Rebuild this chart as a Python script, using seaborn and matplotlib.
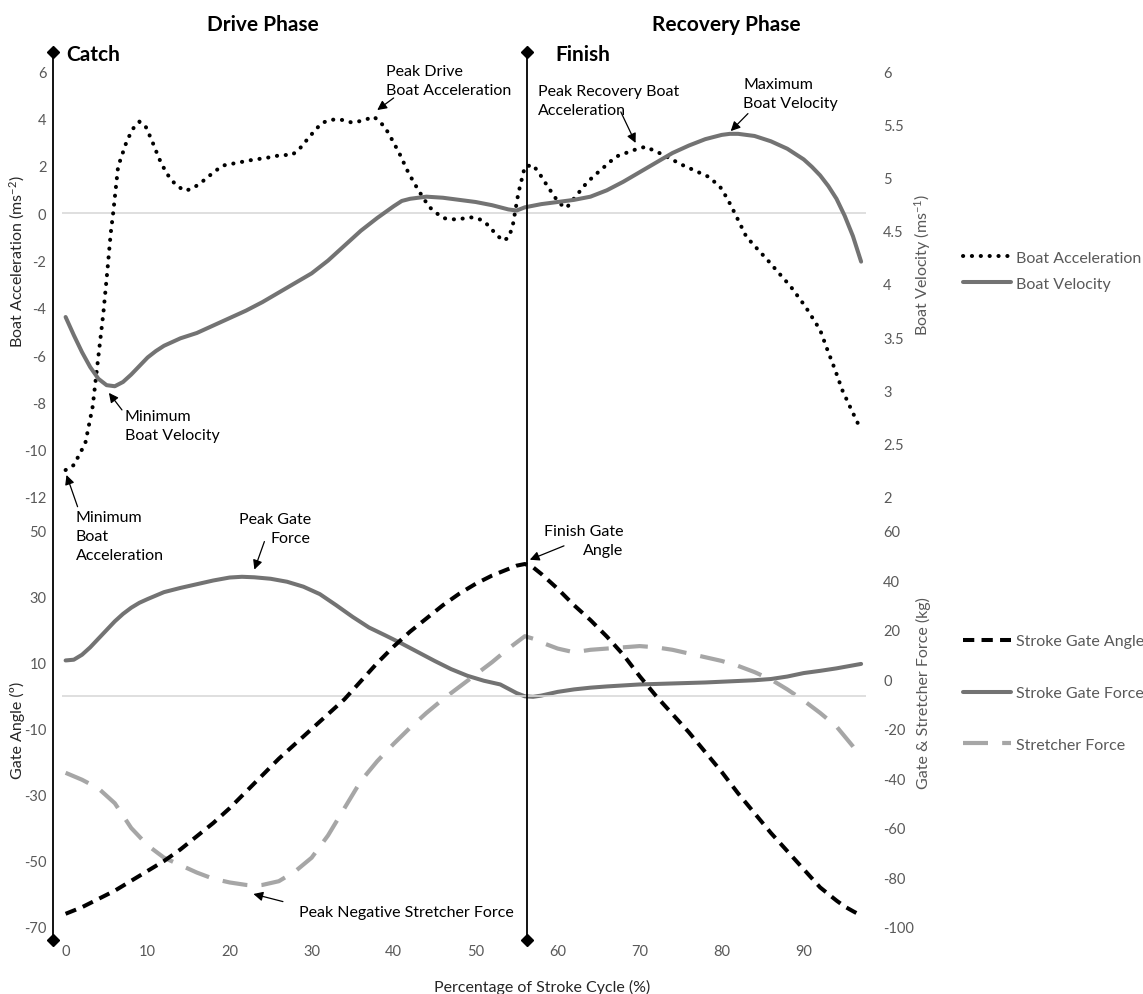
import matplotlib
matplotlib.use("Agg")
import matplotlib.pyplot as plt
import matplotlib.transforms as mtransforms
from matplotlib.ticker import FuncFormatter
import seaborn as sns

# ---------------- data ----------------
acc_x = [0, 1, 2.4, 3.3, 3.9, 4.6, 5.1, 5.5, 5.8, 6.4, 7.5, 8.3, 9.0, 9.7, 10.5, 11.4, 12.3, 13.4,
         14.5, 15.4, 16.4, 17.7, 19.1, 20.9, 22.7, 24.5, 26.3, 27.6, 28.5, 29.4, 30.3, 31.2, 32.1,
         33.0, 34.0, 34.9, 36.2, 37.6, 38.9, 39.8, 40.7, 41.8, 43.0, 44.3, 45.2, 46.1, 47.7, 49.3,
         50.2, 51.1, 52.4, 53.3, 54.0, 54.5, 55.2, 56.0, 57.0, 57.9, 58.8, 59.8, 60.8, 61.2, 62.5,
         63.6, 64.8, 67.1, 69.3, 70.7, 72.5, 75.2, 78.4, 79.8, 80.7, 81.6, 83.0, 84.3, 85.6, 87.0,
         88.4, 90.2, 92.0, 92.9, 93.8, 94.7, 95.8, 96.8]
acc_y = [-10.86, -10.65, -9.73, -8.18, -6.35, -4.24, -2.41, -0.86, 0.0, 1.96, 3.08, 3.6, 3.86, 3.7,
         3.08, 2.3, 1.68, 1.2, 0.94, 1.02, 1.25, 1.62, 2.0, 2.12, 2.24, 2.33, 2.45, 2.45, 2.7, 3.08,
         3.45, 3.79, 3.92, 3.96, 3.92, 3.82, 3.9, 4.07, 3.65, 3.1, 2.52, 1.7, 0.97, 0.27, 0.0, -0.22,
         -0.28, -0.18, -0.22, -0.37, -0.86, -1.17, -1.05, -0.58, 0.83, 1.96, 2.03, 1.6, 1.11, 0.6,
         0.22, 0.27, 0.83, 1.3, 1.68, 2.38, 2.66, 2.8, 2.52, 2.03, 1.53, 1.11, 0.6, -0.01, -1.0,
         -1.5, -1.99, -2.55, -3.1, -3.95, -4.94, -5.79, -6.6, -7.48, -8.3, -9.03]

vel_x = [0, 1, 2, 3, 4, 5, 6, 7, 8, 9, 10, 11, 12, 14, 16, 18, 20, 22, 24, 26, 28, 30, 32, 34, 36,
         38, 40, 41, 42, 44, 46, 48, 50, 52, 54, 55, 56, 58, 60, 62, 64, 66, 68, 70, 72, 74, 76, 78,
         80, 81, 82, 84, 86, 88, 90, 91, 92, 93, 94, 95, 96, 97]
vel_y = [3.69, 3.52, 3.36, 3.22, 3.11, 3.05, 3.04, 3.08, 3.15, 3.23, 3.31, 3.37, 3.42, 3.49, 3.54,
         3.61, 3.68, 3.75, 3.83, 3.92, 4.01, 4.10, 4.22, 4.36, 4.50, 4.62, 4.73, 4.78, 4.80, 4.82,
         4.81, 4.79, 4.77, 4.74, 4.70, 4.69, 4.72, 4.75, 4.77, 4.79, 4.82, 4.88, 4.96, 5.05, 5.14,
         5.23, 5.30, 5.36, 5.40, 5.41, 5.41, 5.39, 5.34, 5.27, 5.17, 5.10, 5.02, 4.92, 4.80, 4.64,
         4.45, 4.21]

ang_x = [0, 2, 4, 6, 8, 10, 12, 14, 16, 18, 20, 22, 24, 26, 28, 30, 32, 34, 36, 38, 40, 42, 44, 46,
         48, 50, 52, 54, 55, 56, 57, 58, 60, 62, 64, 66, 68, 70, 72, 74, 76, 78, 80, 82, 84, 86, 88,
         90, 92, 94, 95, 96, 96.6]
ang_y = [-66, -64, -61.5, -59, -56, -53, -50, -46.5, -42.5, -38.5, -34, -29, -24, -19, -14.5, -10,
         -5.5, -1, 4.5, 10, 15, 19.5, 23.5, 27.5, 31, 34, 36.5, 38.5, 39.5, 40, 39, 37, 32.5, 27.5,
         23, 18, 12.5, 6, 0, -5.5, -11, -17, -23, -29.5, -35.5, -41.5, -47, -52.5, -58, -62, -63.8,
         -65.2, -66]

gf_x = [0, 1, 2, 3, 4, 5, 6, 7, 8, 9, 10, 12, 14, 16, 18, 20, 21.5, 23, 25, 27, 29, 31, 33, 35, 37,
        39, 41, 43, 45, 47, 49, 51, 53, 55, 56, 57, 58, 60, 62, 64, 66, 68, 70, 72, 74, 76, 78, 80,
        82, 84, 86, 88, 90, 92, 94, 96, 97]
gf_y = [7.7, 8.0, 10, 13, 16.5, 20, 23.5, 26.5, 29, 31, 32.5, 35.3, 37, 38.5, 40, 41.2, 41.5, 41.3,
        40.7, 39.5, 37.5, 34.5, 30, 25.3, 21, 17.8, 14.5, 11, 7.5, 4.2, 1.5, -0.5, -2, -5.5, -6.8,
        -7, -6.5, -5, -4, -3.3, -2.8, -2.4, -2, -1.8, -1.6, -1.4, -1.2, -0.9, -0.6, -0.3, 0.2, 1.2,
        2.6, 3.5, 4.5, 5.7, 6.3]

sf_x = [0, 2, 4, 6, 8, 10, 12, 14, 16, 18, 20, 22, 23, 24, 26, 28, 30, 32, 34, 36, 38, 40, 42, 44,
        46, 48, 50, 52, 54, 56, 57, 58, 60, 62, 64, 66, 68, 70, 72, 74, 76, 78, 80, 82, 84, 86, 88,
        90, 92, 94, 96, 96.7]
sf_y = [-37.7, -40.5, -44, -50, -60, -67, -72, -75, -78, -80.5, -82, -83, -83.3, -83, -81.5, -77.5,
        -72, -63, -52, -41, -33, -26, -19.5, -13.5, -8, -3, 2, 7, 12.5, 17.5, 16.5, 15, 12.5, 11,
        12, 12.5, 13, 13.5, 13, 12, 10.5, 9, 7.5, 5.5, 3, 0, -4, -8.5, -13.5, -19, -27, -30]

acc_ticks = [-12, -10, -8, -6, -4, -2, 0, 2, 4, 6]
vel_ticks = [2, 2.5, 3, 3.5, 4, 4.5, 5, 5.5, 6]
ang_ticks = [-70, -50, -30, -10, 10, 30, 50]
force_ticks = [-100, -80, -60, -40, -20, 0, 20, 40, 60]
x_ticks = [0, 10, 20, 30, 40, 50, 60, 70, 80, 90]
catch_x = -1.5
finish_x = 56.2

# ---------------- style ----------------
sns.set_theme(style="white")
plt.rcParams["font.family"] = ["Lato", "DejaVu Sans"]
plt.rcParams["axes.unicode_minus"] = False
plt.rcParams["mathtext.fontset"] = "custom"
plt.rcParams["mathtext.rm"] = "Lato"
plt.rcParams["mathtext.it"] = "Lato:italic"
plt.rcParams["mathtext.bf"] = "Lato:bold"

TICK = "#595959"
BLACK = "#000000"
GREY = "#737373"
LIGHT = "#a6a6a6"
ZERO = "#d9d9d9"

W, H = 1143, 995
fig = plt.figure(figsize=(W / 100, H / 100), dpi=100)

L = 53.3 / W
AW = (868 - 53.3) / W
ax1 = fig.add_axes([L, 1 - 498 / H, AW, 426 / H])
ax1r = ax1.twinx()
ax2 = fig.add_axes([L, 1 - 928 / H, AW, 396 / H])
ax2r = ax2.twinx()

XLIM = (catch_x, 97.84)
for a in (ax1, ax1r, ax2, ax2r):
    a.set_xlim(*XLIM)
    a.set_facecolor("none")
    for s in a.spines.values():
        s.set_visible(False)
    a.tick_params(length=0, colors=TICK, labelsize=10.5)
    a.grid(False)

# zero lines
ax1.hlines(0, -0.5, 97.6, color=ZERO, lw=1.2, zorder=0)
ax2.hlines(0, -0.5, 97.6, color=ZERO, lw=1.2, zorder=0)

# ---------------- series ----------------
sns.lineplot(x=vel_x, y=vel_y, ax=ax1r, color=GREY, lw=2.9, label="Boat Velocity", legend=False)
sns.lineplot(x=acc_x, y=acc_y, ax=ax1, color=BLACK, lw=2.9, linestyle=(0, (0.05, 2.15)),
             dash_capstyle="round", label="Boat Acceleration", legend=False)
h_acc = ax1.get_lines()[-1]
h_vel = ax1r.get_lines()[-1]

sns.lineplot(x=gf_x, y=gf_y, ax=ax2r, color=GREY, lw=2.9, label="Stroke Gate Force", legend=False)
h_gf = ax2r.get_lines()[-1]
sns.lineplot(x=sf_x, y=sf_y, ax=ax2r, color=LIGHT, lw=3.0, linestyle=(0, (6.0, 3.4)),
             label="Stretcher Force", legend=False)
h_sf = ax2r.get_lines()[-1]
sns.lineplot(x=ang_x, y=ang_y, ax=ax2, color=BLACK, lw=2.9, linestyle=(0, (2.8, 1.8)),
             label="Stroke Gate Angle", legend=False)
h_ang = ax2.get_lines()[-1]
ax2.set_zorder(ax2r.get_zorder() + 1)

# ---------------- axes ----------------
ax1.set_ylim(-12, 6)
ax1.set_yticks(acc_ticks)
ax1r.set_ylim(2, 6)
ax1r.set_yticks(vel_ticks)
ax1r.yaxis.set_major_formatter(FuncFormatter(lambda v, p: f"{v:g}"))
ax2.set_ylim(-70, 50)
ax2.set_yticks(ang_ticks)
ax2r.set_ylim(-100, 60)
ax2r.set_yticks(force_ticks)

ax1.set_xticks([])
ax1r.set_xticks([])
ax2r.set_xticks([])
ax2.set_xticks(x_ticks)
ax2.tick_params(axis="x", pad=12)
ax1.tick_params(axis="y", pad=5)
ax2.tick_params(axis="y", pad=5)
ax1r.tick_params(axis="y", pad=11)
ax2r.tick_params(axis="y", pad=11)

ax2.set_xlabel("Percentage of Stroke Cycle (%)", fontsize=11.5, color="#262626")
ax2.xaxis.label.set(va="center")
ax2.xaxis.set_label_coords((542 - 53.3) / (868 - 53.3), (928 - 987) / 396)

ax1.set_ylabel(r"Boat Acceleration (ms$^{\mathregular{-2}}$)", fontsize=11.5, color="#262626")
ax1.yaxis.label.set(va="center", ha="center", rotation_mode="anchor")
ax1.yaxis.set_label_coords((17 - 53.3) / 814.7, (498 - 262) / 426)

ax1r.set_ylabel(r"Boat Velocity (ms$^{\mathregular{-1}}$)", fontsize=11.5, color=TICK)
ax1r.yaxis.label.set(va="center", ha="center", rotation_mode="anchor", rotation=90)
ax1r.yaxis.set_label_coords((923 - 53.3) / 814.7, (498 - 265) / 426)

ax2.set_ylabel("Gate Angle (º)", fontsize=11.5, color="#262626")
ax2.yaxis.label.set(va="center", ha="center", rotation_mode="anchor")
ax2.yaxis.set_label_coords((17 - 53.3) / 814.7, (928 - 730) / 396)

ax2r.set_ylabel("Gate & Stretcher Force (kg)", fontsize=11.5, color=TICK)
ax2r.yaxis.label.set(va="center", ha="center", rotation_mode="anchor", rotation=90)
ax2r.yaxis.set_label_coords((923 - 53.3) / 814.7, (928 - 693) / 396)

# ---------------- phase lines ----------------
trans = mtransforms.blended_transform_factory(ax2.transData, fig.transFigure)
for xv in (catch_x, finish_x):
    ax2.plot([xv, xv], [1 - 941 / H, 1 - 53 / H], transform=trans, color="black", lw=1.3,
             marker="D", ms=6.5, clip_on=False, zorder=10)

# ---------------- headings ----------------
fig.text(262.7 / W, 1 - 25 / H, "Drive Phase", ha="center", va="center", fontsize=15,
         fontweight="bold", color="black")
fig.text(726.7 / W, 1 - 25 / H, "Recovery Phase", ha="center", va="center", fontsize=15,
         fontweight="bold", color="black")
fig.text(66.6 / W, 1 - 55 / H, "Catch", ha="left", va="center", fontsize=15,
         fontweight="bold", color="black")
fig.text(555 / W, 1 - 55 / H, "Finish", ha="left", va="center", fontsize=15,
         fontweight="bold", color="black")

# ---------------- annotations ----------------
ANN = dict(fontsize=11.5, color="black", linespacing=1.45)
arrow = dict(arrowstyle="-|>", color="black", lw=0.9, mutation_scale=14, shrinkA=0, shrinkB=0)


def note(ax, text, pos, tail, tip, ha="left"):
    ax.text(pos[0], pos[1], text, ha=ha, va="center", multialignment=ha, clip_on=False, **ANN)
    ax.annotate("", xy=tip, xytext=tail, arrowprops=arrow, annotation_clip=False)


note(ax1, "Peak Drive\nBoat Acceleration", (39.1, 5.6), (40.0, 4.86), (38.0, 4.35))
note(ax1, "Peak Recovery Boat\nAcceleration", (57.6, 4.77), (67.7, 4.27), (69.5, 2.96))
note(ax1, "Maximum\nBoat Velocity", (82.6, 5.05), (83.2, 4.2), (81.1, 3.46))
note(ax1, "Minimum\nBoat Velocity", (7.23, -8.96), (6.87, -8.32), (5.28, -7.6))
note(ax1, "Minimum\nBoat\nAcceleration", (1.23, -13.65), (1.46, -12.41), (0.11, -11.07))
note(ax2, "Peak Gate\nForce", (29.9, 50.9), (24.24, 46.8), (23.02, 38.3), ha="right")
note(ax2, "Finish Gate\nAngle", (67.97, 47.06), (60.77, 45.5), (56.6, 41.3), ha="right")
note(ax2, "Peak Negative Stretcher Force", (28.45, -65.4), (26.5, -62.3), (22.9, -60.0))

# ---------------- legends ----------------
fig.legend(handles=[h_acc, h_vel], labels=["Boat Acceleration", "Boat Velocity"],
           loc="center left", bbox_to_anchor=(963 / W, 1 - 271.5 / H), frameon=False,
           handlelength=3.0, handletextpad=0.3, labelspacing=0.75, borderpad=0,
           borderaxespad=0, fontsize=11.5, labelcolor=TICK)
fig.legend(handles=[h_ang, h_gf, h_sf],
           labels=["Stroke Gate Angle", "Stroke Gate Force", "Stretcher Force"],
           loc="center left", bbox_to_anchor=(963 / W, 1 - 694 / H), frameon=False,
           handlelength=3.0, handletextpad=0.3, labelspacing=2.35, borderpad=0,
           borderaxespad=0, fontsize=11.5, labelcolor=TICK)

fig.savefig("out.png", dpi=100)
